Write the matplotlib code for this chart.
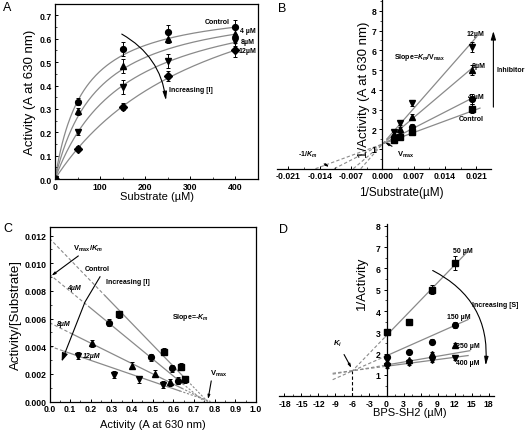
import numpy as np
import matplotlib
matplotlib.use('Agg')
import matplotlib.pyplot as plt
from matplotlib.ticker import MultipleLocator

plt.rcParams['font.family'] = ['Liberation Sans', 'DejaVu Sans']
plt.rcParams['mathtext.fontset'] = 'custom'
plt.rcParams['mathtext.rm'] = 'Liberation Sans:bold'
plt.rcParams['mathtext.it'] = 'Liberation Sans:italic:bold'
plt.rcParams['mathtext.bf'] = 'Liberation Sans:bold'

# ---------------- data ----------------
# Panel A : Michaelis-Menten
substrate = [0, 50, 150, 250, 400]
labels_inh = ['Control', '4 µM', '8µM', '12µM']
actA_control = [0.0, 0.33, 0.555, 0.63, 0.65]
actA_4 = [0.0, 0.29, 0.485, 0.60, 0.62]
actA_8 = [0.0, 0.20, 0.395, 0.505, 0.59]
actA_12 = [0.0, 0.13, 0.31, 0.44, 0.55]
errA_control = [0, 0.015, 0.03, 0.03, 0.03]
errA_4 = [0, 0.015, 0.03, 0.02, 0.02]
errA_8 = [0, 0.01, 0.03, 0.03, 0.02]
errA_12 = [0, 0.01, 0.015, 0.02, 0.03]
fitA_vmax = [0.752, 0.767, 0.81, 1.03]
fitA_km = [63, 95, 154, 347]

# Panel B : Lineweaver-Burk
inv_sub = [0.0025, 0.004, 0.00667, 0.02]
B_control = [1.47, 1.62, 1.84, 3.05]
B_4 = [1.59, 1.68, 2.09, 3.55]
B_8 = [1.67, 2.0, 2.6, 5.0]
B_12 = [1.84, 2.31, 3.35, 6.15]
errB = [0.08, 0.1, 0.15, 0.25]
fitB_intercept = 1.25
fitB_slope = [83.5, 116, 192, 258]
fitB_end = [0.0218, 0.0207, 0.0211, 0.0211]
labels_B = ['Control', '4 µM', '8µM', '12µM']

# Panel C : Eadie-Hofstee
C_ctrl_x = [0.335, 0.555, 0.635, 0.655]
C_ctrl_y = [0.0063, 0.0036, 0.0025, 0.0016]
C_4_x = [0.29, 0.49, 0.595, 0.62]
C_4_y = [0.0057, 0.0032, 0.0024, 0.0015]
C_8_x = [0.205, 0.40, 0.51, 0.585]
C_8_y = [0.0042, 0.0026, 0.0020, 0.0014]
C_12_x = [0.14, 0.31, 0.435, 0.55]
C_12_y = [0.0033, 0.00195, 0.0016, 0.0012]
C_y0 = [0.0118, 0.0092, 0.0057, 0.0040]
C_x0 = [0.765, 0.75, 0.77, 0.78]
C_solid_start = [0.27, 0.19, 0.105, 0.07]
C_solid_end = [0.655, 0.645, 0.64, 0.63]

# Panel D : Dixon
D_x = [0, 4, 8, 12]
D_50 = [3.0, 3.48, 5.0, 6.25]
D_150 = [1.85, 2.07, 2.55, 3.33]
D_250 = [1.6, 1.68, 2.0, 2.4]
D_400 = [1.42, 1.55, 1.72, 1.8]
errD_50 = [0.1, 0.15, 0.2, 0.35]
errD_150 = [0.08, 0.08, 0.12, 0.15]
errD_250 = [0.08, 0.08, 0.1, 0.12]
errD_400 = [0.08, 0.1, 0.1, 0.1]
fitD_slope = [0.275, 0.118, 0.0454, 0.0348]
fitD_intercept = [2.85, 1.9, 1.47, 1.41]
fitD_end = [14.3, 14.4, 14.7, 14.4]
fitD_dash_start = [-6.2, -9.5, -9.5, -9.5]
labels_D = ['50 µM', '150 µM', '250 µM', '400 µM']
Ki = -6.0
Ki_y = 1.2

# ---------------- figure ----------------
W, H = 528, 431
fig = plt.figure(figsize=(W / 100, H / 100), dpi=100)


def rect(l, t, r, b):
    return [l / W, 1 - b / H, (r - l) / W, (b - t) / H]


LINE = '#8a8a8a'
TICKFS = 6.2
ANN = dict(fontsize=5, fontweight='bold', color='black')
MS = 4.2


def style_ticks(ax):
    for lab in ax.get_xticklabels() + ax.get_yticklabels():
        lab.set_fontweight('bold')
        lab.set_fontsize(TICKFS)


# ---- Panel A ----
axA = fig.add_axes(rect(55, 4.7, 258, 180))
S = np.linspace(0, 400, 200)
markersA = ['o', '^', 'v', 'D']
seriesA = [actA_control, actA_4, actA_8, actA_12]
errsA = [errA_control, errA_4, errA_8, errA_12]
for i in range(4):
    axA.plot(S, fitA_vmax[i] * S / (fitA_km[i] + S), color=LINE, lw=0.9, zorder=1)
    axA.errorbar(substrate, seriesA[i], yerr=errsA[i], fmt=markersA[i], color='black',
                 ms=MS if markersA[i] != 'D' else 3.6, elinewidth=0.7, capsize=1.5, capthick=0.7, zorder=3)
axA.set_xlim(0, 450)
axA.set_ylim(0, 0.75)
axA.set_xticks([0, 100, 200, 300, 400])
axA.set_yticks([0.0, 0.1, 0.2, 0.3, 0.4, 0.5, 0.6, 0.7])
axA.set_yticklabels(['0.0', '0.1', '0.2', '0.3', '0.4', '0.5', '0.6', '0.7'])
axA.tick_params(direction='in', length=2.5, width=0.7, pad=2)
axA.xaxis.set_minor_locator(MultipleLocator(50))
axA.yaxis.set_minor_locator(MultipleLocator(0.05))
axA.tick_params(which='minor', direction='in', length=1.5, width=0.5)
style_ticks(axA)
for sp in axA.spines.values():
    sp.set_linewidth(0.9)
axA.set_xlabel('Substrate (µM)', fontsize=8, labelpad=0.5)
axA.set_ylabel('Activity (A at 630 nm)', fontsize=9.5, labelpad=3)
axA.text(333, 0.673, 'Control', ha='left', va='center', **ANN)
axA.text(411, 0.634, '4 µM', ha='left', va='center', **ANN)
axA.text(411, 0.588, '8µM', ha='left', va='center', **ANN)
axA.text(407, 0.549, '12µM', ha='left', va='center', **ANN)
axA.text(252, 0.381, 'Increasing [I]', ha='left', va='center', **ANN)
axA.annotate('', xy=(246, 0.336), xytext=(148, 0.62),
             arrowprops=dict(arrowstyle='-|>,head_length=0.5,head_width=0.12', color='black', lw=0.8,
                             connectionstyle='arc3,rad=-0.25', shrinkA=0, shrinkB=0))
fig.text(3 / W, 1 - 11 / H, 'A', fontsize=9)

# ---- Panel B ----
axB = fig.add_axes(rect(277.3, 0, 490.7, 169.7))
axB.patch.set_alpha(0)
markersB = ['s', 'o', '^', 'v']
seriesB = [B_control, B_4, B_8, B_12]
for i in range(4):
    xs = np.linspace(0.001, fitB_end[i], 20)
    axB.plot(xs, fitB_intercept + fitB_slope[i] * xs, color=LINE, lw=0.9, zorder=1)
    xd = np.linspace(-fitB_intercept / fitB_slope[i], 0.001, 20)
    axB.plot(xd, fitB_intercept + fitB_slope[i] * xd, color=LINE, lw=0.8, ls=(0, (3, 2)), zorder=1)
    axB.errorbar(inv_sub, seriesB[i], yerr=errB, fmt=markersB[i], color='black', ms=MS,
                 elinewidth=0.7, capsize=1.5, capthick=0.7, zorder=3)
axB.set_xlim(-0.0235, 0.0242)
axB.set_ylim(0, 8.6)
axB.spines['left'].set_position(('data', 0))
axB.spines['bottom'].set_position(('data', 0))
axB.spines['right'].set_visible(False)
axB.spines['top'].set_visible(False)
for sp in axB.spines.values():
    sp.set_linewidth(0.9)
axB.set_xticks([-0.021, -0.014, -0.007, 0.0, 0.007, 0.014, 0.021])
axB.set_xticklabels(['-0.021', '-0.014', '-0.007', '0.000', '0.007', '0.014', '0.021'])
axB.xaxis.set_minor_locator(MultipleLocator(0.0035))
axB.set_yticks([1, 2, 3, 4, 5, 6, 7, 8])
axB.yaxis.set_minor_locator(MultipleLocator(0.5))
axB.tick_params(axis='x', which='major', direction='in', length=2.5, width=0.7, pad=2)
axB.tick_params(axis='x', which='minor', direction='in', length=1.5, width=0.5)
axB.tick_params(axis='y', which='major', direction='out', length=2.5, width=0.7, pad=2)
axB.tick_params(axis='y', which='minor', direction='out', length=1.5, width=0.5)
style_ticks(axB)
fig.text(401 / W, 1 - 193 / H, '1/Substrate(µM)', fontsize=8.5, ha='center', va='center')
fig.text(364 / W, 1 - 90 / H, '1/Activity (A at 630 nm)', fontsize=9.5, ha='center', va='center',
         rotation=90)
axB.text(0.0026, 5.7, r'Slope=$K_m$/$\mathrm{V_{max}}$', ha='left', va='center', **ANN)
axB.text(0.0188, 6.87, '12µM', ha='left', va='center', **ANN)
axB.text(0.0200, 5.25, '8µM', ha='left', va='center', **ANN)
axB.text(0.0192, 3.68, '4 µM', ha='left', va='center', **ANN)
axB.text(0.0170, 2.52, 'Control', ha='left', va='center', **ANN)
axB.text(0.0256, 5.04, 'Inhibitor', ha='left', va='center', clip_on=False, **ANN)
axB.annotate('', xy=(0.0248, 6.97), xytext=(0.0248, 3.12), annotation_clip=False,
             arrowprops=dict(arrowstyle='-|>,head_length=0.5,head_width=0.15', color='black', lw=0.8,
                             shrinkA=0, shrinkB=0))
axB.annotate(r'-1/$K_m$', xy=(-0.0119, 0.09), xytext=(-0.0166, 0.74), ha='center', va='center',
             arrowprops=dict(arrowstyle='-|>,head_length=0.4,head_width=0.12', color='black', lw=0.8,
                             shrinkA=3, shrinkB=0), **ANN)
axB.annotate(r'$\mathrm{V_{max}}$', xy=(0.0006, 1.33), xytext=(0.0033, 0.74), ha='left', va='center',
             arrowprops=dict(arrowstyle='-|>,head_length=0.4,head_width=0.12', color='black', lw=0.8,
                             shrinkA=2, shrinkB=0), fontsize=5.5, fontweight='bold')
fig.text(278 / W, 1 - 12 / H, 'B', fontsize=9)

# ---- Panel C ----
axC = fig.add_axes(rect(49.5, 228.3, 256, 402.5))
markersC = ['s', 'o', '^', 'v']
seriesC = [(C_ctrl_x, C_ctrl_y), (C_4_x, C_4_y), (C_8_x, C_8_y), (C_12_x, C_12_y)]
for i in range(4):
    def line(x, i=i):
        return C_y0[i] * (1 - np.asarray(x) / C_x0[i])
    xs = np.linspace(C_solid_start[i], C_solid_end[i], 20)
    axC.plot(xs, line(xs), color=LINE, lw=0.9, zorder=1)
    xd1 = np.linspace(0, C_solid_start[i], 20)
    axC.plot(xd1, line(xd1), color=LINE, lw=0.8, ls=(0, (3, 2)), zorder=1)
    xd2 = np.linspace(C_solid_end[i], C_x0[i], 10)
    axC.plot(xd2, line(xd2), color=LINE, lw=0.8, ls=(0, (2, 1.5)), zorder=1)
    axC.errorbar(seriesC[i][0], seriesC[i][1], yerr=0.00025, fmt=markersC[i], color='black', ms=MS,
                 elinewidth=0.7, capsize=1.2, capthick=0.7, zorder=3)
axC.set_xlim(0, 1.0)
axC.set_ylim(0, 0.0126)
axC.set_xticks([0.0, 0.1, 0.2, 0.3, 0.4, 0.5, 0.6, 0.7, 0.8, 0.9, 1.0])
axC.set_xticklabels(['0.0', '0.1', '0.2', '0.3', '0.4', '0.5', '0.6', '0.7', '0.8', '0.9', '1.0'])
axC.set_yticks([0, 0.002, 0.004, 0.006, 0.008, 0.010, 0.012])
axC.set_yticklabels(['0.000', '0.002', '0.004', '0.006', '0.008', '0.010', '0.012'])
axC.xaxis.set_minor_locator(MultipleLocator(0.05))
axC.yaxis.set_minor_locator(MultipleLocator(0.001))
axC.tick_params(direction='in', length=2.5, width=0.7, pad=2)
axC.tick_params(which='minor', direction='in', length=1.5, width=0.5)
style_ticks(axC)
for sp in axC.spines.values():
    sp.set_linewidth(0.9)
axC.set_xlabel('Activity (A at 630 nm)', fontsize=8, labelpad=4)
axC.set_ylabel('Activity/[Substrate]', fontsize=9.5, labelpad=2)
axC.annotate(r'$\mathrm{V_{max}}$/$K_m$', xy=(0.01, 0.0091), xytext=(0.114, 0.0111), ha='left',
             va='center', arrowprops=dict(arrowstyle='-|>,head_length=0.4,head_width=0.12', color='black',
                                          lw=0.8, shrinkA=0, shrinkB=0,
                                          relpos=(0.3, 0.0)), fontsize=5.5, fontweight='bold')
axC.text(0.172, 0.00962, 'Control', ha='left', va='center', **ANN)
axC.text(0.274, 0.0087, 'Increasing [I]', ha='left', va='center', **ANN)
axC.text(0.085, 0.00824, '4µM', ha='left', va='center', style='italic', **ANN)
axC.text(0.593, 0.00613, r'Slope=-$K_m$', ha='left', va='center', **ANN)
axC.text(0.036, 0.00562, '8µM', ha='left', va='center', style='italic', **ANN)
axC.text(0.162, 0.00332, '12µM', ha='left', va='center', style='italic', **ANN)
axC.annotate(r'$\mathrm{V_{max}}$', xy=(0.768, 0.00017), xytext=(0.777, 0.00206), ha='left', va='center',
             arrowprops=dict(arrowstyle='-|>,head_length=0.4,head_width=0.12', color='black', lw=0.8,
                             shrinkA=0, shrinkB=0, relpos=(0.1, 0.0)), fontsize=5.5, fontweight='bold')
arrC_x = [0.2446, 0.172, 0.072]
arrC_y = [0.00902, 0.0072, 0.0034]
axC.plot(arrC_x, arrC_y, color='black', lw=0.8)
axC.annotate('', xy=(0.059, 0.0029), xytext=(arrC_x[-1], arrC_y[-1]),
             arrowprops=dict(arrowstyle='-|>,head_length=0.5,head_width=0.18', color='black', lw=0.8,
                             shrinkA=0, shrinkB=0))
fig.text(3 / W, 1 - 232 / H, 'C', fontsize=9)

# ---- Panel D ----
axD = fig.add_axes(rect(279, 225, 494, 397.3))
axD.patch.set_alpha(0)
markersD = ['s', 'o', '^', 'v']
seriesD = [D_50, D_150, D_250, D_400]
errsD = [errD_50, errD_150, errD_250, errD_400]
for i in range(4):
    xs = np.linspace(-0.2, fitD_end[i], 20)
    axD.plot(xs, fitD_intercept[i] + fitD_slope[i] * xs, color=LINE, lw=0.9, zorder=1)
    xd = np.linspace(fitD_dash_start[i], -0.2, 20)
    axD.plot(xd, fitD_intercept[i] + fitD_slope[i] * xd, color=LINE, lw=0.8, ls=(0, (3, 2)), zorder=1)
    axD.errorbar(D_x, seriesD[i], yerr=errsD[i], fmt=markersD[i], color='black', ms=MS,
                 elinewidth=0.7, capsize=1.5, capthick=0.7, zorder=3)
axD.plot([Ki, Ki], [0, Ki_y], color='black', lw=0.8, ls=(0, (3, 2)))
axD.set_xlim(-18.97, 18.97)
axD.set_ylim(0, 8.08)
axD.spines['left'].set_position(('data', 0))
axD.spines['bottom'].set_position(('data', 0))
axD.spines['right'].set_visible(False)
axD.spines['top'].set_visible(False)
for sp in axD.spines.values():
    sp.set_linewidth(0.9)
axD.set_xticks(list(range(-18, 19, 3)))
axD.set_xticklabels([str(v) for v in range(-18, 19, 3)])
axD.xaxis.set_minor_locator(MultipleLocator(1.5))
axD.set_yticks([1, 2, 3, 4, 5, 6, 7, 8])
axD.yaxis.set_minor_locator(MultipleLocator(0.5))
axD.tick_params(axis='x', which='major', direction='in', length=2.5, width=0.7, pad=2)
axD.tick_params(axis='x', which='minor', direction='in', length=1.5, width=0.5)
axD.tick_params(axis='y', which='major', direction='out', length=2.5, width=0.7, pad=2)
axD.tick_params(axis='y', which='minor', direction='out', length=1.5, width=0.5)
style_ticks(axD)
fig.text(410 / W, 1 - 413 / H, 'BPS-SH2 (µM)', fontsize=8, ha='center', va='center')
fig.text(362 / W, 1 - 283 / H, '1/Activity', fontsize=9.5, ha='center', va='center', rotation=90)
axD.text(11.7, 6.84, labels_D[0], ha='left', va='center', **ANN)
axD.text(10.7, 3.72, labels_D[1], ha='left', va='center', **ANN)
axD.text(12.3, 2.38, labels_D[2], ha='left', va='center', **ANN)
axD.text(12.3, 1.6, labels_D[3], ha='left', va='center', **ANN)
axD.text(15.1, 4.29, 'Increasing [S]', ha='left', va='center', clip_on=False, **ANN)
axD.annotate(r'$K_i$', xy=(-6.2, 1.33), xytext=(-8.6, 2.5), ha='center', va='center',
             arrowprops=dict(arrowstyle='-|>,head_length=0.4,head_width=0.12', color='black', lw=0.8,
                             shrinkA=3, shrinkB=0), fontsize=5.5, fontweight='bold')
axD.annotate('', xy=(17.5, 1.44), xytext=(8.15, 5.9), annotation_clip=False,
             arrowprops=dict(arrowstyle='-|>,head_length=0.5,head_width=0.12', color='black', lw=0.8,
                             connectionstyle='arc3,rad=-0.33', shrinkA=0, shrinkB=0))
fig.text(279 / W, 1 - 233 / H, 'D', fontsize=9)

fig.savefig('out.png', dpi=100)
